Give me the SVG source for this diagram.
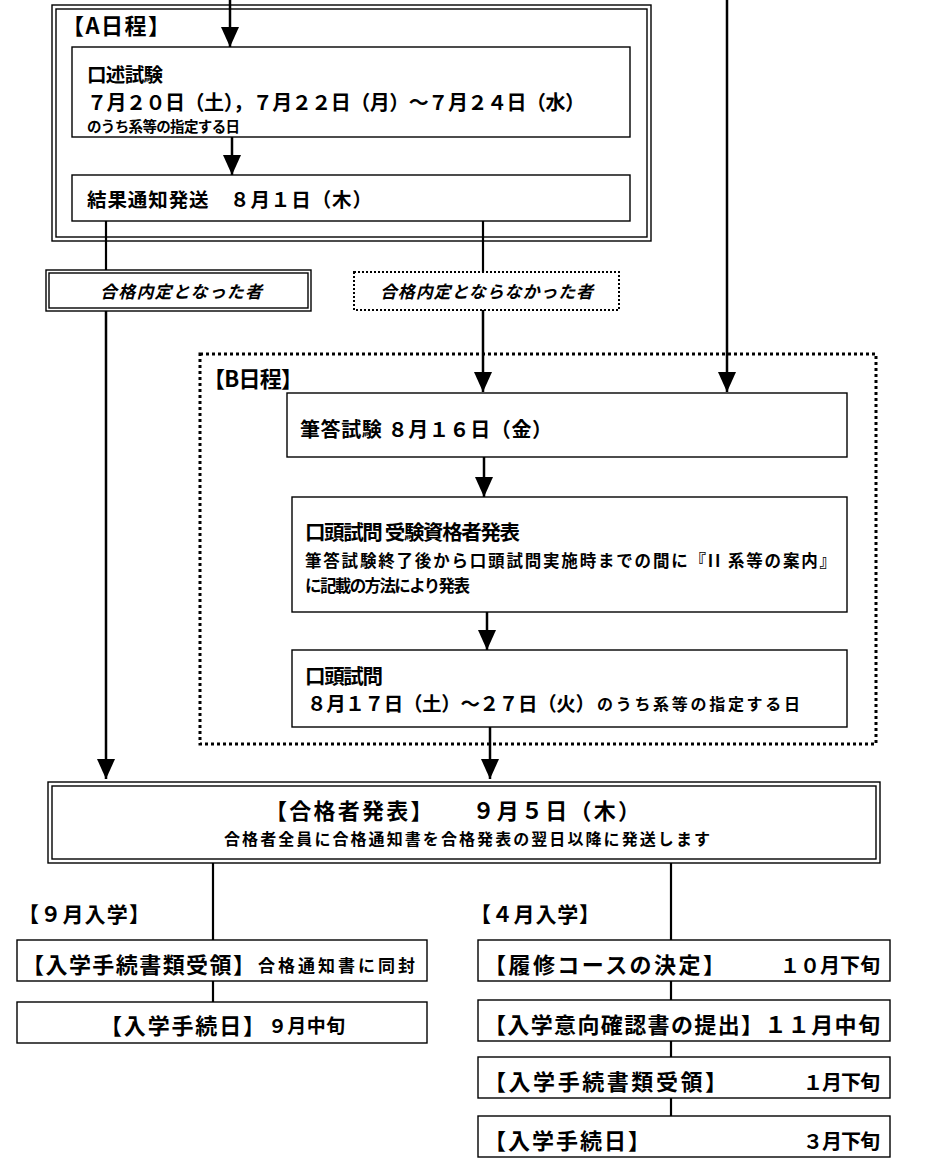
<svg xmlns="http://www.w3.org/2000/svg" width="950" height="1170" viewBox="0 0 950 1170">
<defs>
<marker id="ah" markerUnits="userSpaceOnUse" markerWidth="20" markerHeight="20" refX="20" refY="9" orient="auto">
<path d="M0,0 L20,9 L0,18 z" fill="#000"/>
</marker>
<style>
text{font-family:"Noto Sans CJK JP","Noto Sans CJK SC",sans-serif;font-weight:bold;fill:#000}
.box{fill:#fff;stroke:#000;stroke-width:1.4}
.dbl{fill:#fff;stroke:#000;stroke-width:1.4}
.dot{fill:none;stroke:#000;stroke-width:3;stroke-dasharray:3 3}
.dot2{fill:#fff;stroke:#000;stroke-width:2;stroke-dasharray:2 2}
.arr{stroke:#000;stroke-width:2.5;fill:none;marker-end:url(#ah)}
.ln{stroke:#000;stroke-width:2.2;fill:none}
.it{font-style:italic}
</style>
</defs>
<rect width="950" height="1170" fill="#fff"/>

<g id="scheduleA">
<rect class="dbl" x="52" y="5" width="599" height="236"/>
<rect class="dbl" x="56" y="9" width="591" height="228"/>
<text x="62" y="34" font-size="22" textLength="108">【A日程】</text>
</g>

<g id="scheduleB">
<rect class="dot" x="200" y="354" width="676" height="390"/>
<text x="203" y="387" font-size="22" textLength="100">【B日程】</text>
</g>

<g id="oral-a">
<rect class="box" x="72" y="47" width="558" height="90"/>
<text x="87" y="82" font-size="19.5" textLength="76">口述試験</text>
<text x="87" y="110" font-size="20" textLength="498">７月２０日（土），７月２２日（月）～７月２４日（水）</text>
<text x="87" y="132" font-size="14.5" textLength="153">のうち系等の指定する日</text>
</g>

<g id="result-a">
<rect class="box" x="72" y="175" width="558" height="46"/>
<text x="87" y="207" font-size="19.5" textLength="285">結果通知発送　８月１日（木）</text>
</g>

<g id="passed-a">
<rect class="dbl" x="46" y="270" width="265" height="41"/>
<rect class="dbl" x="49" y="273" width="259" height="35"/>
<text class="it" x="100" y="298" font-size="17" textLength="162">合格内定となった者</text>
</g>

<g id="notpassed-a">
<rect class="dot2" x="354" y="272" width="265" height="38"/>
<text class="it" x="380" y="298" font-size="17" textLength="213">合格内定とならなかった者</text>
</g>

<g id="written-b">
<rect class="box" x="287" y="393" width="560" height="64"/>
<text x="300" y="437" font-size="20" textLength="252">筆答試験 ８月１６日（金）</text>
</g>

<g id="qualify-b">
<rect class="box" x="292" y="497" width="555" height="115"/>
<text x="305" y="540" font-size="20.5" textLength="215">口頭試問 受験資格者発表</text>
<text x="305" y="567" font-size="16.5" textLength="531">筆答試験終了後から口頭試問実施時までの間に『II 系等の案内』</text>
<text x="305" y="592" font-size="16.5" textLength="165">に記載の方法により発表</text>
</g>

<g id="oral-b">
<rect class="box" x="292" y="650" width="555" height="77"/>
<text x="305" y="684" font-size="20.5" textLength="78">口頭試問</text>
<text x="307" y="711" font-size="19.5" textLength="288">８月１７日（土）～２７日（火）</text>
<text x="597" y="710" font-size="16" textLength="203">のうち系等の指定する日</text>
</g>

<g id="announce">
<rect class="dbl" x="48" y="782" width="832" height="81"/>
<rect class="dbl" x="52" y="786" width="824" height="73"/>
<text x="265" y="819" font-size="22" textLength="375">【合格者発表】　　９月５日（木）</text>
<text x="224" y="845" font-size="16" textLength="486">合格者全員に合格通知書を合格発表の翌日以降に発送します</text>
</g>

<g id="label-sep">
<text x="18" y="922" font-size="21" textLength="132">【９月入学】</text>
</g>
<g id="label-apr">
<text x="470" y="922" font-size="21" textLength="130">【４月入学】</text>
</g>

<g id="sep-docs">
<rect class="box" x="17" y="940" width="410" height="41"/>
<text x="22" y="973" font-size="22" textLength="233">【入学手続書類受領】</text>
<text x="258" y="972" font-size="17" textLength="157">合格通知書に同封</text>
</g>
<g id="sep-proc">
<rect class="box" x="17" y="1002" width="410" height="41"/>
<text x="100" y="1034" font-size="22" textLength="165">【入学手続日】</text>
<text x="268" y="1033" font-size="19" textLength="77">９月中旬</text>
</g>

<g id="apr-course">
<rect class="box" x="478" y="940" width="412" height="41"/>
<text x="484" y="973" font-size="22" textLength="241">【履修コースの決定】</text>
<text x="780" y="973" font-size="20" textLength="100">１０月下旬</text>
</g>
<g id="apr-intent">
<rect class="box" x="478" y="1000" width="412" height="41"/>
<text x="484" y="1033" font-size="22" textLength="396">【入学意向確認書の提出】１１月中旬</text>
</g>
<g id="apr-docs">
<rect class="box" x="478" y="1057" width="412" height="41"/>
<text x="484" y="1090" font-size="22" textLength="243">【入学手続書類受領】</text>
<text x="803" y="1090" font-size="20" textLength="77">１月下旬</text>
</g>
<g id="apr-proc">
<rect class="box" x="478" y="1116" width="412" height="41"/>
<text x="484" y="1149" font-size="22" textLength="166">【入学手続日】</text>
<text x="803" y="1149" font-size="20" textLength="77">３月下旬</text>
</g>

<g id="connectors">
<line class="arr" x1="230" y1="0" x2="230" y2="47"/>
<line class="arr" x1="727" y1="0" x2="727" y2="392"/>
<line class="arr" x1="232" y1="137" x2="232" y2="175"/>
<line class="ln" x1="106" y1="221" x2="106" y2="270"/>
<line class="arr" x1="106" y1="311" x2="106" y2="779"/>
<line class="ln" x1="483" y1="221" x2="483" y2="272"/>
<line class="arr" x1="483" y1="310" x2="483" y2="392"/>
<line class="arr" x1="484" y1="457" x2="484" y2="497"/>
<line class="arr" x1="487" y1="612" x2="487" y2="650"/>
<line class="arr" x1="490" y1="727" x2="490" y2="779"/>
<line class="ln" x1="213" y1="863" x2="213" y2="940"/>
<line class="ln" x1="213" y1="981" x2="213" y2="1002"/>
<line class="ln" x1="671" y1="863" x2="671" y2="940"/>
<line class="ln" x1="671" y1="981" x2="671" y2="1000"/>
<line class="ln" x1="671" y1="1041" x2="671" y2="1057"/>
<line class="ln" x1="671" y1="1098" x2="671" y2="1116"/>
</g>
</svg>
